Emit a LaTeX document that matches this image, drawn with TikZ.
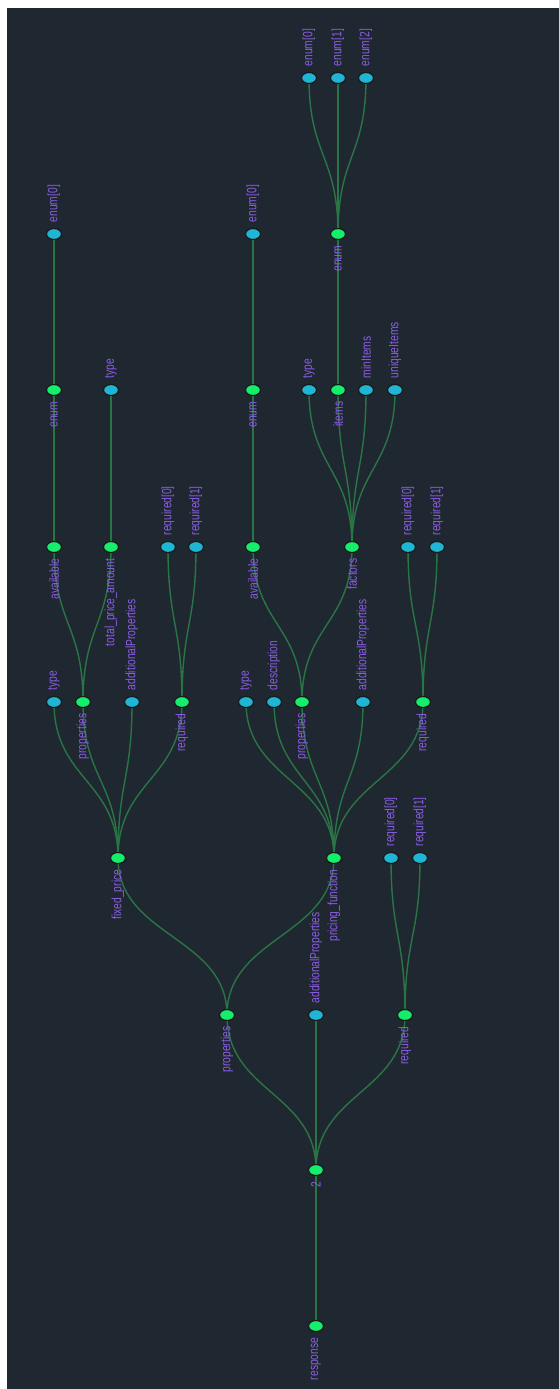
\documentclass[tikz,border=0pt]{standalone}
\usepackage{fontspec}
\setmainfont{Liberation Sans}
\usepackage{graphicx}
\usetikzlibrary{shapes.geometric,calc}
\definecolor{bgc}{HTML}{1F2731}
\definecolor{greenc}{HTML}{14EE6C}
\definecolor{cyanc}{HTML}{1FB6D6}
\definecolor{edgec}{HTML}{2A7545}
\definecolor{labc}{HTML}{8C5DE6}
\pgfdeclarelayer{bglayer}
\pgfdeclarelayer{edgelayer}
\pgfsetlayers{bglayer,edgelayer,main}
\newcommand\rlab[1]{\rotatebox{90}{\scalebox{0.76}[1]{#1}}}
\tikzset{
  dot/.style={ellipse, minimum width=15pt, minimum height=11pt, inner sep=0pt, draw=black!90, line width=1.2pt},
  inner/.style={dot, fill=greenc, label={[labstyle, anchor=north, label distance=5.5pt]south:{\rlab{#1}}}},
  leaf/.style={dot, fill=cyanc, label={[labstyle, anchor=south, label distance=5.5pt]north:{\rlab{#1}}}},
  labstyle/.style={inner sep=0pt, text=labc, font=\fontsize{13.5}{15}\selectfont},
  edgestyle/.style={draw=edgec, line width=1.4pt}
}
\newcommand\tedge[2]{%
  \path ($(#1)!0.5!(#2)$) coordinate (m#1#2);
  \draw[edgestyle] (#1.center) .. controls (#1 |- m#1#2) and (#2 |- m#1#2) .. (#2.center);}
\begin{document}
\begin{tikzpicture}[x=1pt,y=-1pt]
\useasboundingbox (0,0) rectangle (559,1389);
\begin{pgfonlayer}{bglayer}
\fill[white] (0,0) rectangle (559,1389);
\fill[bgc] (7,8) rectangle (559,1389);
\end{pgfonlayer}
% level 0-2
\node[inner=response] (r) at (316,1326) {};
\node[inner=2] (n2) at (316,1170) {};
\node[inner=properties] (p) at (227,1015) {};
\node[leaf=additionalProperties] (ap) at (316,1015) {};
\node[inner=required] (rq) at (405,1015) {};
% level 3
\node[inner=fixed\_price] (fp) at (118,858) {};
\node[inner=pricing\_function] (pf) at (334,858) {};
\node[leaf={required[0]}] (rqa) at (391,858) {};
\node[leaf={required[1]}] (rqb) at (420,858) {};
% level 4
\node[leaf=type] (fpt) at (54,702) {};
\node[inner=properties] (fpp) at (83,702) {};
\node[leaf=additionalProperties] (fpap) at (132,702) {};
\node[inner=required] (fprq) at (182,702) {};
\node[leaf=type] (pft) at (246,702) {};
\node[leaf=description] (pfd) at (274,702) {};
\node[inner=properties] (pfp) at (302,702) {};
\node[leaf=additionalProperties] (pfap) at (363,702) {};
\node[inner=required] (pfrq) at (423,702) {};
% level 5
\node[inner=available] (fpav) at (54,547) {};
\node[inner=total\_price\_amount] (fpta) at (111,547) {};
\node[leaf={required[0]}] (fprqa) at (168,547) {};
\node[leaf={required[1]}] (fprqb) at (196,547) {};
\node[inner=available] (pfav) at (253,547) {};
\node[inner=factors] (pffa) at (352,547) {};
\node[leaf={required[0]}] (pfrqa) at (408,547) {};
\node[leaf={required[1]}] (pfrqb) at (437,547) {};
% level 6
\node[inner=enum] (fpen) at (54,390) {};
\node[leaf=type] (fptt) at (111,390) {};
\node[inner=enum] (pfen) at (253,390) {};
\node[leaf=type] (fat) at (309,390) {};
\node[inner=items] (fai) at (338,390) {};
\node[leaf=minItems] (fami) at (366,390) {};
\node[leaf=uniqueItems] (fau) at (395,390) {};
% level 7
\node[leaf={enum[0]}] (fpea) at (54,234) {};
\node[leaf={enum[0]}] (pfea) at (253,234) {};
\node[inner=enum] (ie) at (338,234) {};
% level 8
\node[leaf={enum[0]}] (iea) at (309,78) {};
\node[leaf={enum[1]}] (ieb) at (338,78) {};
\node[leaf={enum[2]}] (iec) at (366,78) {};
\begin{pgfonlayer}{edgelayer}
\tedge{r}{n2}
\tedge{n2}{p}\tedge{n2}{ap}\tedge{n2}{rq}
\tedge{p}{fp}\tedge{p}{pf}
\tedge{rq}{rqa}\tedge{rq}{rqb}
\tedge{fp}{fpt}\tedge{fp}{fpp}\tedge{fp}{fpap}\tedge{fp}{fprq}
\tedge{pf}{pft}\tedge{pf}{pfd}\tedge{pf}{pfp}\tedge{pf}{pfap}\tedge{pf}{pfrq}
\tedge{fpp}{fpav}\tedge{fpp}{fpta}
\tedge{fprq}{fprqa}\tedge{fprq}{fprqb}
\tedge{pfp}{pfav}\tedge{pfp}{pffa}
\tedge{pfrq}{pfrqa}\tedge{pfrq}{pfrqb}
\tedge{fpav}{fpen}\tedge{fpta}{fptt}
\tedge{pfav}{pfen}
\tedge{pffa}{fat}\tedge{pffa}{fai}\tedge{pffa}{fami}\tedge{pffa}{fau}
\tedge{fpen}{fpea}\tedge{pfen}{pfea}\tedge{fai}{ie}
\tedge{ie}{iea}\tedge{ie}{ieb}\tedge{ie}{iec}
\end{pgfonlayer}
\end{tikzpicture}
\end{document}
